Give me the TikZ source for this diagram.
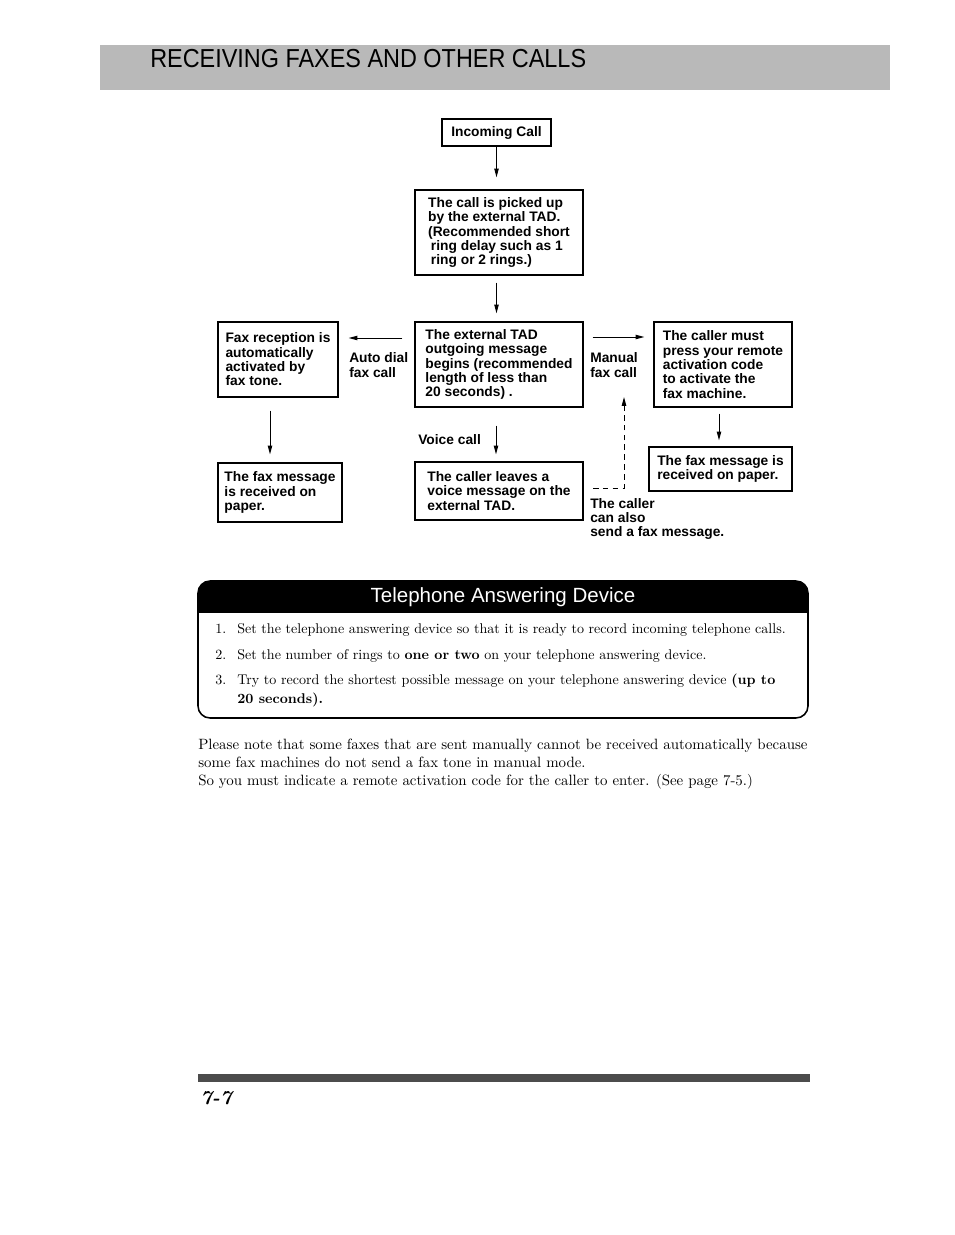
\documentclass[tikz,border=0pt]{standalone}
\usepackage{fontspec}
\newfontfamily\flowfont{Liberation Sans}
\newfontfamily\headfont[FakeStretch=0.9]{Liberation Sans}
\usetikzlibrary{positioning,arrows.meta}

\begin{document}
\begin{tikzpicture}[
    x=0.025cm, y=-0.025cm,
    box/.style={draw, line width=0.9pt, align=left, inner sep=0pt, font=\flowfont\bfseries\fontsize{9.8}{10.2}\selectfont},
    lbl/.style={align=left, inner sep=0pt, font=\flowfont\bfseries\fontsize{9.8}{10.2}\selectfont},
    arr/.style={-{Triangle[length=2.2mm, width=1.1mm]}, line width=0.7pt},
    body/.style={inner sep=0pt, align=left, font=\fontsize{10}{12.8}\selectfont}
]
\useasboundingbox[fill=white] (0,0) rectangle (954,1235);

% page header
\fill[gray!55] (100,45) rectangle (890,90);
\node[anchor=west, inner sep=0pt, font=\headfont\fontsize{18.5}{18.5}\selectfont] (pagetitle) at (150,59) {RECEIVING FAXES AND OTHER CALLS};

% flow chart
\node[box, line width=1.3pt, minimum width=2.725cm, minimum height=0.675cm] (incoming) at (496.5,132.5) {Incoming Call};
\node[box, minimum width=4.2cm, minimum height=2.125cm] (pickup) at (499,232.5)
{The call is picked up\\by the external TAD.\\(Recommended short\\\hspace*{2pt}ring delay such as 1\\\hspace*{2pt}ring or 2 rings.)};
\node[box, minimum width=4.2cm, minimum height=2.125cm] (tadmsg) at (499,364.5)
{The external TAD\\outgoing message\\begins (recommended\\length of less than\\20 seconds) .};
\node[box, minimum width=3cm, minimum height=1.875cm] (autorecv) at (278,359.5)
{Fax reception is\\automatically\\activated by\\fax tone.};
\node[box, minimum width=3.45cm, minimum height=2.125cm] (presscode) at (723,364.5)
{The caller must\\press your remote\\activation code\\to activate the\\fax machine.};
\node[box, minimum width=3.1cm, minimum height=1.475cm] (paperleft) at (280,492.5)
{The fax message\\is received on\\paper.};
\node[box, minimum width=4.2cm, minimum height=1.45cm] (voicemsg) at (499,491)
{The caller leaves a\\voice message on the\\external TAD.};
\node[box, minimum width=3.575cm, minimum height=1.1cm] (paperright) at (720.5,469)
{The fax message is\\received on paper.};

\node[lbl, anchor=west] (autodial) at (349,365) {Auto dial\\fax call};
\node[lbl, anchor=west] (manual) at (590,365) {Manual\\fax call};
\node[lbl, anchor=west] (voice) at (418,440) {Voice call};
\node[lbl, anchor=north west] (sendfax) at (590,498) {The caller\\can also\\send a fax message.};

\draw[arr, shorten >=0.3cm] (incoming.south) -- (incoming.south |- pickup.north);
\draw[arr, shorten <=0.175cm, shorten >=0.2cm] (pickup.south -| incoming.south) -- (incoming.south |- tadmsg.north);
\draw[arr, shorten <=0.3cm, shorten >=0.25cm] (tadmsg.west |- 0,338) -- (autorecv.east |- 0,338);
\draw[arr, shorten <=0.225cm, shorten >=0.225cm] (tadmsg.east |- 0,337) -- (presscode.west |- 0,337);
\draw[arr, shorten <=0.325cm, shorten >=0.2cm] (autorecv.south -| 270,0) -- (paperleft.north -| 270,0);
\draw[arr, shorten <=0.45cm, shorten >=0.175cm] (tadmsg.south -| 496,0) -- (voicemsg.north -| 496,0);
\draw[arr, shorten <=0.15cm, shorten >=0.15cm] (presscode.south -| 719,0) -- (paperright.north -| 719,0);

\coordinate (dashfrom) at (593,488);
\coordinate (dashto) at (624,397);
\draw[arr, dash pattern=on 4pt off 3pt] (dashfrom) -| (dashto);

% answering device box
\begin{scope}
  \clip (198,581) rectangle (808,612);
  \fill[rounded corners=0.3cm] (198,581) rectangle (808,718);
\end{scope}
\draw[line width=1.1pt, rounded corners=0.3cm] (198,581) rectangle (808,718);
\node[inner sep=0pt, text=white, font=\flowfont\fontsize{14.6}{14.6}\selectfont] (tadtitle) at (503,597) {Telephone Answering Device};

\node[body, anchor=base west] (num1) at (215,633) {1.};
\node[body, anchor=base west] (item1) at (237,633) {Set the telephone answering device so that it is ready to record incoming telephone calls.};
\node[body, anchor=base west] (num2) at (215,659) {2.};
\node[body, anchor=base west] (item2) at (237,659) {Set the number of rings to \textbf{one or two} on your telephone answering device.};
\node[body, anchor=base west] (num3) at (215,684) {3.};
\node[body, anchor=north west, font=\fontsize{10}{13.5}\selectfont] (item3) at (237,674) {Try to record the shortest possible message on your telephone answering device \textbf{(up to}\\\textbf{20 seconds).}};

% note below
\node[body, anchor=north west, font=\fontsize{10.6}{12.8}\selectfont] (note) at (198,739)
{Please note that some faxes that are sent manually cannot be received automatically because\\some fax machines do not send a fax tone in manual mode.\\So you must indicate a remote activation code for the caller to enter. (See page 7-5.)};

% page footer
\fill[gray!60!black] (198,1074) rectangle (810,1082);
\node[anchor=base west, inner sep=0pt, font=\bfseries\itshape\fontsize{14}{14}\selectfont] (pagenum) at (200,1104) {7-7};

\end{tikzpicture}
\end{document}
